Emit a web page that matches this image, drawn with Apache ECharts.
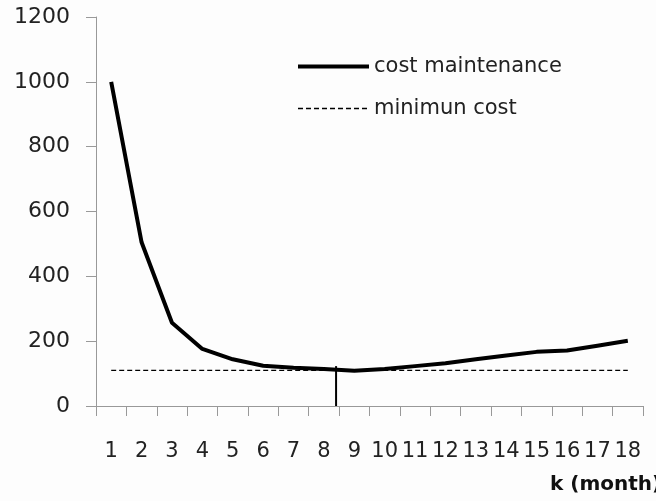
<!DOCTYPE html>
<html>
<head>
<meta charset="utf-8">
<script src="https://cdn.jsdelivr.net/npm/echarts@6/dist/echarts.min.js"></script>
<style>
  html, body { margin: 0; padding: 0; background: #fdfdfd; }
  #chart { width: 656px; height: 501px; }
</style>
</head>
<body>
<div id="chart"></div>
<script>
// months k = 1..18
var months = ['1', '2', '3', '4', '5', '6', '7', '8', '9', '10', '11', '12', '13', '14', '15', '16', '17', '18'];
// cost maintenance per month
var costValues = [1000, 505, 257, 176, 144, 124, 118, 114, 109, 114, 123, 132, 144, 156, 167, 171, 186, 201];
// minimum cost level
var minCost = 110;
var minCostValues = months.map(function() { return minCost; });
// vertical marker at the optimum (x in category units, y from 0 up)
var markerK = [8.4, 8.4];
var markerY = [0, 123];
var yTicks = [0, 200, 400, 600, 800, 1000, 1200];

var font = 'DejaVu Sans';
var myChart = echarts.init(document.getElementById('chart'));

var option = {
  backgroundColor: '#fdfdfd',
  animation: false,
  grid: { left: 96, right: 13, top: 17, bottom: 95 },
  legend: {
    orient: 'vertical',
    left: 296,
    top: 56,
    padding: 0,
    itemWidth: 71,
    itemHeight: 14,
    itemGap: 21,
    itemStyle: { opacity: 0 },
    textStyle: { fontFamily: font, fontSize: 21, color: '#222' },
    data: [
      { name: 'cost maintenance', lineStyle: { width: 4, color: '#000' } },
      { name: 'minimun cost', lineStyle: { width: 1.3, color: '#000', type: [5, 3] } }
    ]
  },
  xAxis: [{
    type: 'category',
    data: months,
    boundaryGap: true,
    axisLine: { lineStyle: { color: '#999', width: 1 } },
    axisTick: { show: true, length: 10, lineStyle: { color: '#999' } },
    axisLabel: { margin: 35, fontFamily: font, fontSize: 21, color: '#222', interval: 0 }
  }, {
    type: 'value',
    min: 0.5,
    max: 18.5,
    show: false
  }],
  yAxis: {
    type: 'value',
    min: 0,
    max: yTicks[yTicks.length - 1],
    interval: yTicks[1] - yTicks[0],
    splitLine: { show: false },
    axisLine: { show: true, lineStyle: { color: '#999', width: 1 } },
    axisTick: { show: true, length: 10, lineStyle: { color: '#999' } },
    axisLabel: {
      margin: 26, fontFamily: font, fontSize: 22, color: '#222',
      formatter: function(v) { return String(v); }
    }
  },
  graphic: [{
    type: 'text',
    left: 550,
    top: 475,
    style: { text: 'k (month)', font: 'bold 20px "DejaVu Sans"', fill: '#111' }
  }],
  series: [{
    name: 'cost maintenance',
    type: 'line',
    data: costValues,
    symbol: 'none',
    lineStyle: { color: '#000', width: 4 },
    itemStyle: { color: '#000' },
    z: 3
  }, {
    name: 'minimun cost',
    type: 'line',
    data: minCostValues,
    symbol: 'none',
    lineStyle: { color: '#000', width: 1.3, type: [5, 3] },
    itemStyle: { color: '#000' },
    z: 2
  }, {
    name: 'marker',
    type: 'line',
    xAxisIndex: 1,
    data: markerK.map(function(k, i) { return [k, markerY[i]]; }),
    symbol: 'none',
    lineStyle: { color: '#000', width: 2 },
    z: 4
  }]
};

myChart.setOption(option);
</script>
</body>
</html>
